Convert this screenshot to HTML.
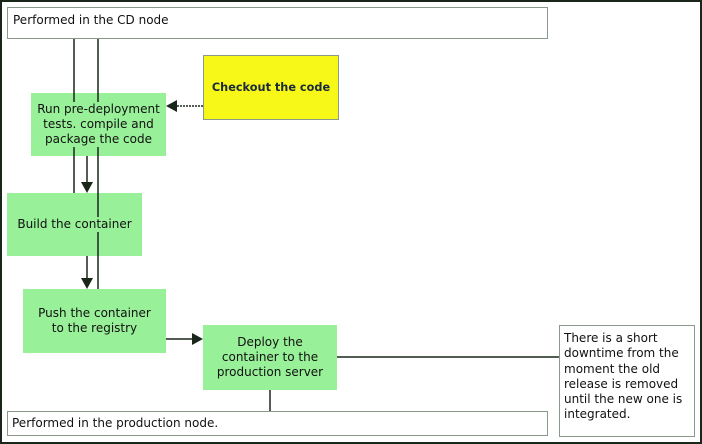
<!DOCTYPE html>
<html><head><style>
body{margin:0;width:702px;height:444px;overflow:hidden;background:#fff;font-family:"DejaVu Sans","Liberation Sans",sans-serif;}
.f{position:absolute;box-sizing:border-box;}
.bx{border:1px solid #8a9a8a;background:#fff;font-size:12px;color:#111;}
.g{background:#98f098;display:flex;align-items:center;justify-content:center;text-align:center;font-size:12px;line-height:15px;color:#111;}
.g span{background:#98f098;position:relative;z-index:2}
</style></head><body>
<div class="f" style="left:0;top:0;width:702px;height:444px;border:2px solid #1a261a;"></div>
<div class="f bx" style="left:7px;top:7px;width:541px;height:32px;padding:5px 0 0 5px;">Performed in the CD node</div>
<div class="f bx" style="left:7px;top:411px;width:541px;height:25px;padding:4px 0 0 4px;">Performed in the production node.</div>
<div class="f bx" style="left:559px;top:325px;width:136px;height:112px;padding:5px 0 0 4px;line-height:15.3px;">There is a short downtime from the moment the old release is removed until the new one is integrated.</div>
<div class="f g" style="left:203px;top:55px;width:136px;height:65px;background:#f8f818;border:1px solid #8a9a8a;font-weight:bold;font-size:11.3px;color:#1a2a3a;"><span style="background:#f8f818">Checkout the code</span></div>
<div class="f g" style="left:31px;top:93px;width:135px;height:63px;"><span>Run pre-deployment<br>tests. compile and<br>package the code</span></div>
<div class="f g" style="left:7px;top:193px;width:135px;height:63px;"><span>Build the container</span></div>
<div class="f g" style="left:23px;top:289px;width:143px;height:64px;"><span>Push the container<br>to the registry</span></div>
<div class="f g" style="left:203px;top:325px;width:134px;height:65px;"><span>Deploy the<br>container to the<br>production server</span></div>
<svg class="f" style="left:0;top:0;z-index:1" width="702" height="444">
<g stroke="#1a261a" stroke-width="1.5" fill="none">
<line x1="74" y1="39" x2="74" y2="193"/>
<line x1="98" y1="39" x2="98" y2="289"/>
<line x1="87" y1="156" x2="87" y2="184"/>
<line x1="87" y1="256" x2="87" y2="280"/>
<line x1="166" y1="339" x2="194" y2="339"/>
<line x1="203" y1="106" x2="176" y2="106" stroke-dasharray="2,1"/>
<line x1="337" y1="357" x2="559" y2="357"/>
<line x1="270" y1="390" x2="270" y2="411"/>
</g>
<g fill="#1a261a">
<polygon points="81,182 93,182 87,193"/>
<polygon points="81,278 93,278 87,289"/>
<polygon points="192,333 192,345 203,339"/>
<polygon points="177,100 177,112 166,106"/>
</g>
</svg>
</body></html>
